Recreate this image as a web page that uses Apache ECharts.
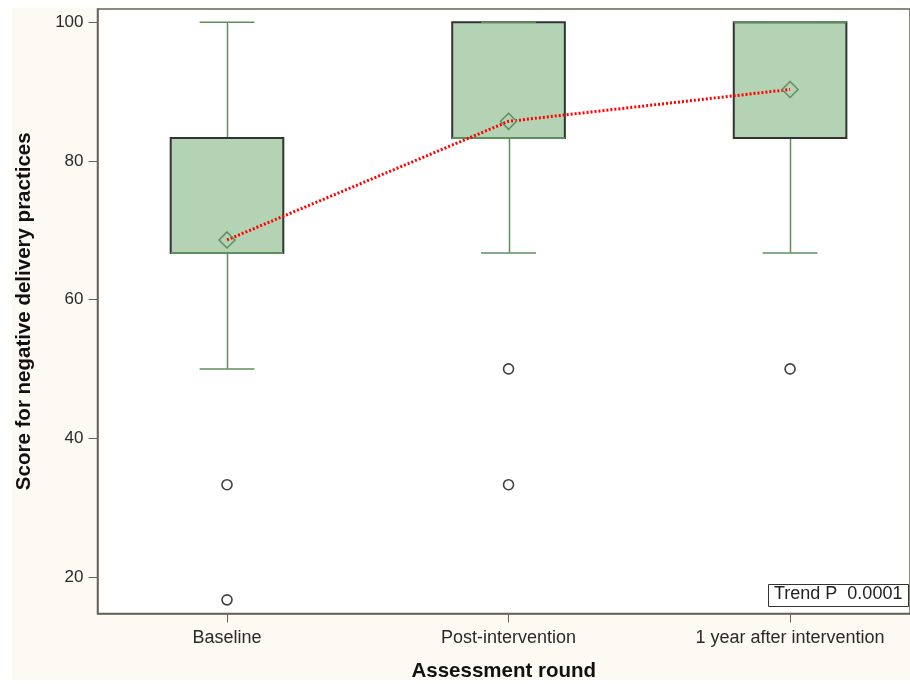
<!DOCTYPE html>
<html>
<head>
<meta charset="utf-8">
<script src="https://cdn.jsdelivr.net/npm/echarts@6/dist/echarts.min.js"></script>
<style>
  html, body { margin: 0; padding: 0; background: #ffffff; }
  #bg { position: absolute; left: 12px; top: 8px; width: 898px; height: 672px; background: #fdfaf3; }
  #chart { position: absolute; left: 0; top: 0; width: 910px; height: 684px; }
</style>
</head>
<body>
<div id="bg"></div>
<div id="chart"></div>
<script>
// ---- data ----
const categories = ['Baseline', 'Post-intervention', '1 year after intervention'];
const whiskerLow  = [50, 66.7, 66.7];
const q1          = [66.7, 83.3, 83.3];
const median      = [66.7, 83.3, 100];
const q3          = [83.3, 100, 100];
const whiskerHigh = [100, 100, 100];
const means       = [68.6, 85.7, 90.3];
const outlierCat  = [1, 1, 2, 2, 3];
const outlierVal  = [33.3, 16.7, 50, 33.3, 50];
const yTicks      = [20, 40, 60, 80, 100];
const xTicks      = [1, 2, 3];
const trendText   = 'Trend P  0.0001';

// ---- build ----
const boxData = categories.map((c, i) => [i + 1, whiskerLow[i], q1[i], median[i], q3[i], whiskerHigh[i]]);
const meanData = categories.map((c, i) => [i + 1, means[i]]);
const outlierData = outlierCat.map((c, i) => [c, outlierVal[i]]);

const GREEN = '#5f8f5f';
const FILL = '#b4d3b4';
const DARK = '#333333';
const FONT = '"Liberation Sans", Arial, sans-serif';

const chart = echarts.init(document.getElementById('chart'), null, { renderer: 'canvas' });

function renderBox(params, api) {
  const x = api.value(0);
  const lo = api.value(1), a = api.value(2), md = api.value(3), b = api.value(4), hi = api.value(5);
  const halfBox = 0.2, halfCap = 0.0975;
  const pL = api.coord([x - halfBox, b]);
  const pR = api.coord([x + halfBox, a]);
  const cL = api.coord([x - halfCap, hi]);
  const cR = api.coord([x + halfCap, hi]);
  const lL = api.coord([x - halfCap, lo]);
  const lR = api.coord([x + halfCap, lo]);
  const pc = api.coord([x, 0]);
  const yLo = api.coord([x, lo])[1], yA = api.coord([x, a])[1], yB = api.coord([x, b])[1], yHi = api.coord([x, hi])[1], yMd = api.coord([x, md])[1];
  const cx = Math.round(pc[0]) + 0.5;
  const lineStyle = { stroke: GREEN, lineWidth: 1.5 };
  return {
    type: 'group',
    children: [
      { type: 'line', shape: { x1: cx, y1: yA, x2: cx, y2: yLo }, style: lineStyle },
      { type: 'line', shape: { x1: cx, y1: yB, x2: cx, y2: yHi }, style: lineStyle },
      { type: 'rect', shape: { x: pL[0], y: pL[1], width: pR[0] - pL[0], height: pR[1] - pL[1] },
        style: { fill: FILL, stroke: DARK, lineWidth: 2 } },
      { type: 'line', shape: { x1: pL[0], y1: yMd, x2: pR[0], y2: yMd }, style: { stroke: GREEN, lineWidth: 2 } },
      { type: 'line', shape: { x1: cL[0], y1: yHi, x2: cR[0], y2: yHi }, style: lineStyle },
      { type: 'line', shape: { x1: lL[0], y1: yLo, x2: lR[0], y2: yLo }, style: lineStyle }
    ]
  };
}

const option = {
  animation: false,
  backgroundColor: 'transparent',
  grid: {
    left: 97.5, top: 9, right: 0, height: 604.5,
    outerBoundsMode: 'none', containLabel: false,
    show: true, backgroundColor: '#ffffff', borderColor: '#66625a', borderWidth: 1.5
  },
  xAxis: {
    type: 'value',
    min: 0.54, max: 3.426,
    name: 'Assessment round',
    nameLocation: 'middle',
    nameGap: 47,
    nameTextStyle: { fontFamily: FONT, fontSize: 20.5, fontWeight: 'bold', color: '#111' },
    axisLine: { show: true, onZero: false, lineStyle: { color: '#66625a', width: 1.5 } },
    axisTick: { show: true, length: 9, customValues: xTicks, lineStyle: { color: '#66625a' } },
    axisLabel: {
      customValues: xTicks, margin: 16,
      formatter: v => categories[Math.round(v) - 1] || '',
      fontFamily: FONT, fontSize: 18, color: '#2a2a2a'
    },
    splitLine: { show: false }
  },
  yAxis: {
    type: 'value',
    min: 14.73, max: 101.9,
    name: 'Score for negative delivery practices',
    nameLocation: 'middle',
    nameGap: 63,
    nameTextStyle: { fontFamily: FONT, fontSize: 20.5, fontWeight: 'bold', color: '#111' },
    axisLine: { show: true, onZero: false, lineStyle: { color: '#66625a', width: 1.5 } },
    axisTick: { show: true, length: 9, customValues: yTicks, lineStyle: { color: '#66625a' } },
    axisLabel: { customValues: yTicks, margin: 14, fontFamily: FONT, fontSize: 17, color: '#2a2a2a' },
    splitLine: { show: false }
  },
  series: [
    {
      type: 'custom',
      renderItem: renderBox,
      data: boxData,
      encode: { x: 0, y: [1, 2, 3, 4, 5] },
      z: 2
    },
    {
      type: 'line',
      data: meanData,
      symbol: 'diamond',
      symbolSize: [16, 16],
      lineStyle: { color: '#ff0000', width: 3, type: [2, 2] },
      itemStyle: { color: 'transparent', borderColor: GREEN, borderWidth: 1.5 },
      z: 3
    },
    {
      type: 'scatter',
      data: outlierData,
      symbol: 'circle',
      symbolSize: 10,
      itemStyle: { color: '#ffffff', borderColor: '#111', borderWidth: 1.6 },
      z: 3
    }
  ],
  graphic: [
    {
      type: 'rect', left: 768, top: 584, z: 10,
      shape: { width: 140, height: 22 },
      style: { fill: '#ffffff', stroke: '#333', lineWidth: 1 }
    },
    {
      type: 'text', left: 774, top: 585, z: 11,
      style: { text: trendText, font: '18px "Liberation Sans", Arial, sans-serif', fill: '#222' }
    }
  ]
};

chart.setOption(option);
</script>
</body>
</html>
